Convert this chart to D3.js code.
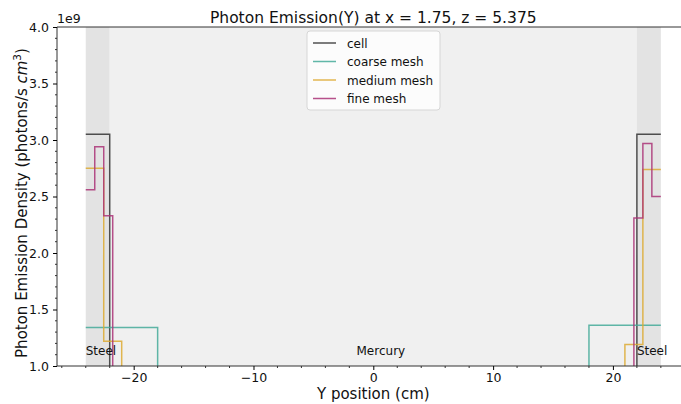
<!DOCTYPE html>
<html><head><meta charset="utf-8">
<script src="https://cdn.jsdelivr.net/npm/d3@7"></script>
<style>body{margin:0;background:#fff}svg{display:block}text{font-family:"DejaVu Sans",sans-serif}</style>
</head><body><svg id="c" width="681" height="404"></svg>
<script>
// Data (values in units of 1e9 photons/s cm^3)
const cellEdges = [-24, -22, 22, 24];
const cellVals = [3.05, 0.6, 3.05];
const coarseEdges = [-24, -18, 18, 24];
const coarseVals = [1.34, 0.6, 1.36];
const mediumEdges = [-24, -22.5, -21, 21, 22.5, 24];
const mediumVals = [2.75, 1.22, 0.6, 1.19, 2.74];
const fineEdges = [-24, -23.25, -22.5, -21.75, 21.75, 22.5, 23.25, 24];
const fineVals = [2.56, 2.94, 2.33, 0.6, 2.31, 2.97, 2.50];
const seriesNames = ["cell", "coarse mesh", "medium mesh", "fine mesh"];
const seriesColors = ["#333333", "#44AA99", "#DDAA33", "#AA3377"];
const regions = [
  {name: "Steel", x0: -24, x1: -22, fill: "#e3e3e3", lx: -24},
  {name: "Mercury", x0: -22, x1: 22, fill: "#f0f0f0", lx: -1.4},
  {name: "Steel", x0: 22, x1: 24, fill: "#e3e3e3", lx: 22}
];
const xTicks = [-20, -10, 0, 10, 20];
const yTicks = [1.0, 1.5, 2.0, 2.5, 3.0, 3.5, 4.0];

const svg = d3.select("#c");
const L = 57, T = 27, B = 366, R = 689.6;
const x = d3.scaleLinear().domain([-26.4, 26.4]).range([L, R]);
const y = d3.scaleLinear().domain([1.0, 4.0]).range([B, T]);

svg.append("defs").append("clipPath").attr("id", "clip")
  .append("rect").attr("x", L).attr("y", T).attr("width", R - L).attr("height", B - T);

const g = svg.append("g");
g.append("rect").attr("x", L).attr("y", T).attr("width", R - L).attr("height", B - T).attr("fill", "#fff");
g.selectAll(".reg").data(regions).enter().append("rect")
  .attr("x", d => x(d.x0)).attr("width", d => x(d.x1) - x(d.x0))
  .attr("y", T).attr("height", B - T).attr("fill", d => d.fill);

// step lines
function stepPath(edges, vals) {
  const pts = [];
  vals.forEach((v, i) => { pts.push([edges[i], v]); pts.push([edges[i + 1], v]); });
  return d3.line().x(d => x(d[0])).y(d => y(d[1]))(pts);
}
const series = [[cellEdges, cellVals], [coarseEdges, coarseVals], [mediumEdges, mediumVals], [fineEdges, fineVals]];
const lines = svg.append("g").attr("clip-path", "url(#clip)");
series.forEach((s, i) => {
  lines.append("path").attr("d", stepPath(s[0], s[1])).attr("fill", "none")
    .attr("stroke", seriesColors[i]).attr("stroke-width", 1.5).attr("stroke-opacity", 0.85);
});

// region labels
svg.selectAll(".rl").data(regions).enter().append("text")
  .attr("x", d => x(d.lx)).attr("y", 355).attr("font-size", 12).attr("fill", "#111").text(d => d.name);

// axes
const xAxis = d3.axisBottom(x).tickValues(xTicks).tickSize(4).tickPadding(3)
  .tickFormat(d => d < 0 ? "\u2212" + Math.abs(d) : d);
const gx = svg.append("g").attr("transform", `translate(0,${B})`).call(xAxis);
gx.select(".domain").attr("stroke", "#333").attr("d", `M${L},0H${R}`);
gx.selectAll("text").attr("font-size", 12.5).attr("fill", "#111");
const xMinor = d3.range(-26, 27, 2).filter(v => v % 10 !== 0);
gx.selectAll(".mt").data(xMinor).enter().append("line")
  .attr("x1", d => x(d)).attr("x2", d => x(d)).attr("y1", 0).attr("y2", 2).attr("stroke", "#333");

const yAxis = d3.axisLeft(y).tickValues(yTicks).tickSize(4).tickPadding(4).tickFormat(d3.format(".1f"));
const gy = svg.append("g").attr("transform", `translate(${L},0)`).call(yAxis);
gy.select(".domain").attr("stroke", "#333").attr("d", `M0,${B}V${T}`);
gy.selectAll("text").attr("font-size", 12.5).attr("fill", "#111");
const yMinor = d3.range(11, 40).filter(v => v % 5 !== 0).map(v => v / 10);
gy.selectAll(".mt").data(yMinor).enter().append("line")
  .attr("x1", -2).attr("x2", 0).attr("y1", d => y(d)).attr("y2", d => y(d)).attr("stroke", "#333");
svg.append("line").attr("x1", L).attr("x2", R).attr("y1", T).attr("y2", T).attr("stroke", "#333");

svg.append("text").attr("x", L).attr("y", 23).attr("font-size", 12.5).attr("fill", "#111").text("1e9");

// titles
svg.append("text").attr("x", 373.3).attr("y", 23).attr("text-anchor", "middle").attr("font-size", 15.5).attr("fill", "#111")
  .text("Photon Emission(Y) at x = 1.75, z = 5.375");
svg.append("text").attr("x", 373.3).attr("y", 399).attr("text-anchor", "middle").attr("font-size", 15).attr("fill", "#111")
  .text("Y position (cm)");
const yl = svg.append("text").attr("transform", `translate(27,203) rotate(-90)`).attr("text-anchor", "middle")
  .attr("font-size", 15).attr("fill", "#111");
yl.append("tspan").text("Photon Emission Density (photons/s ");
yl.append("tspan").attr("font-style", "italic").text("cm");
yl.append("tspan").attr("font-size", 10.5).attr("dy", -6).text("3");
yl.append("tspan").attr("dy", 6).text(")");

// legend
const lg = svg.append("g").attr("transform", "translate(307,31)");
lg.append("rect").attr("width", 133).attr("height", 79).attr("rx", 3).attr("fill", "#fff").attr("fill-opacity", 0.8)
  .attr("stroke", "#d6d6d6");
seriesNames.forEach((n, i) => {
  const yy = 12 + i * 18.5;
  lg.append("line").attr("x1", 6).attr("x2", 29).attr("y1", yy).attr("y2", yy)
    .attr("stroke", seriesColors[i]).attr("stroke-width", 1.5).attr("stroke-opacity", 0.85);
  lg.append("text").attr("x", 40).attr("y", yy + 4.5).attr("font-size", 12).attr("fill", "#111").text(n);
});
</script></body></html>
